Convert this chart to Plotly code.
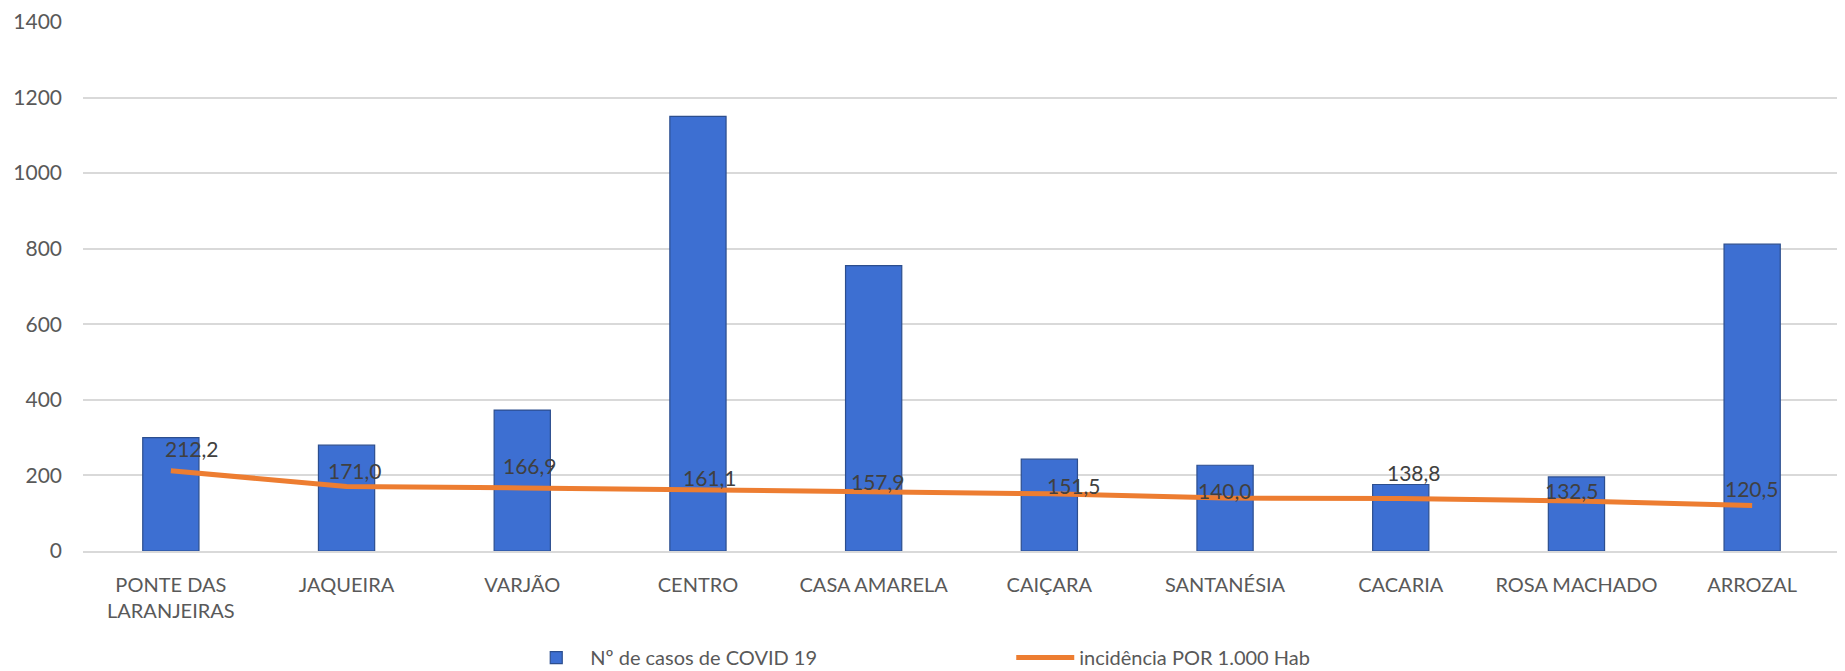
import plotly.graph_objects as go

categories = ["PONTE DAS<br>LARANJEIRAS", "JAQUEIRA", "VARJÃO", "CENTRO", "CASA AMARELA",
              "CAIÇARA", "SANTANÉSIA", "CACARIA", "ROSA MACHADO", "ARROZAL"]
casos = [300, 280, 373, 1150, 755, 243, 227, 176, 196, 812]
incidencia = [212.2, 171.0, 166.9, 161.1, 157.9, 151.5, 140.0, 138.8, 132.5, 120.5]
incidencia_labels = ["212,2", "171,0", "166,9", "161,1", "157,9", "151,5", "140,0", "138,8", "132,5", "120,5"]

# label placement offsets (px) relative to each line point
label_dx = [21, 8, 8, 12, 4, 25, 0, 13, -4, 0]
label_dy = [22, 16, 22, 13, 10, 8, 8, 26, 10, 17]

FONT = "Lato"

fig = go.Figure()
fig.add_trace(go.Bar(
    x=categories, y=casos, name="Nº de casos de COVID 19",
    marker=dict(color="#3D6FD2", line=dict(color="#2C4E8E", width=1.2)),
))
fig.add_trace(go.Scatter(
    x=categories, y=incidencia, name="incidência POR 1.000 Hab",
    mode="lines", line=dict(color="#ED7D31", width=5),
))

for cat, val, lab, dx, dy in zip(categories, incidencia, incidencia_labels, label_dx, label_dy):
    fig.add_annotation(x=cat, y=val, text=lab, showarrow=False,
                       xanchor="center", yanchor="middle", xshift=dx, yshift=dy,
                       font=dict(family=FONT, size=21, color="#404040"))

# page body adds an 8px margin; figure is sized to fit the window
fig.update_layout(
    width=1837, height=663,
    margin=dict(l=75, r=5, t=14, b=120, autoexpand=False),
    paper_bgcolor="white", plot_bgcolor="white",
    bargap=0.68,
    font=dict(family=FONT, size=20, color="#595959"),
    showlegend=True,
    legend=dict(orientation="h", x=0.25, xanchor="left", y=-0.2015, yanchor="middle",
                font=dict(family=FONT, size=20, color="#595959"),
                itemwidth=58, entrywidth=416, entrywidthmode="pixels"),
    xaxis=dict(showgrid=False, showline=True, linecolor="#D9D9D9", linewidth=1.5,
               tickfont=dict(family=FONT, size=20, color="#595959"), ticks="",
               ticklabelstandoff=15),
    yaxis=dict(range=[0, 1400], dtick=200, showgrid=True, gridcolor="#D9D9D9", gridwidth=1.5,
               zeroline=False, showline=False, ticks="", ticklabelstandoff=20,
               tickfont=dict(family=FONT, size=21, color="#595959")),
)

fig.write_html("out.html")
